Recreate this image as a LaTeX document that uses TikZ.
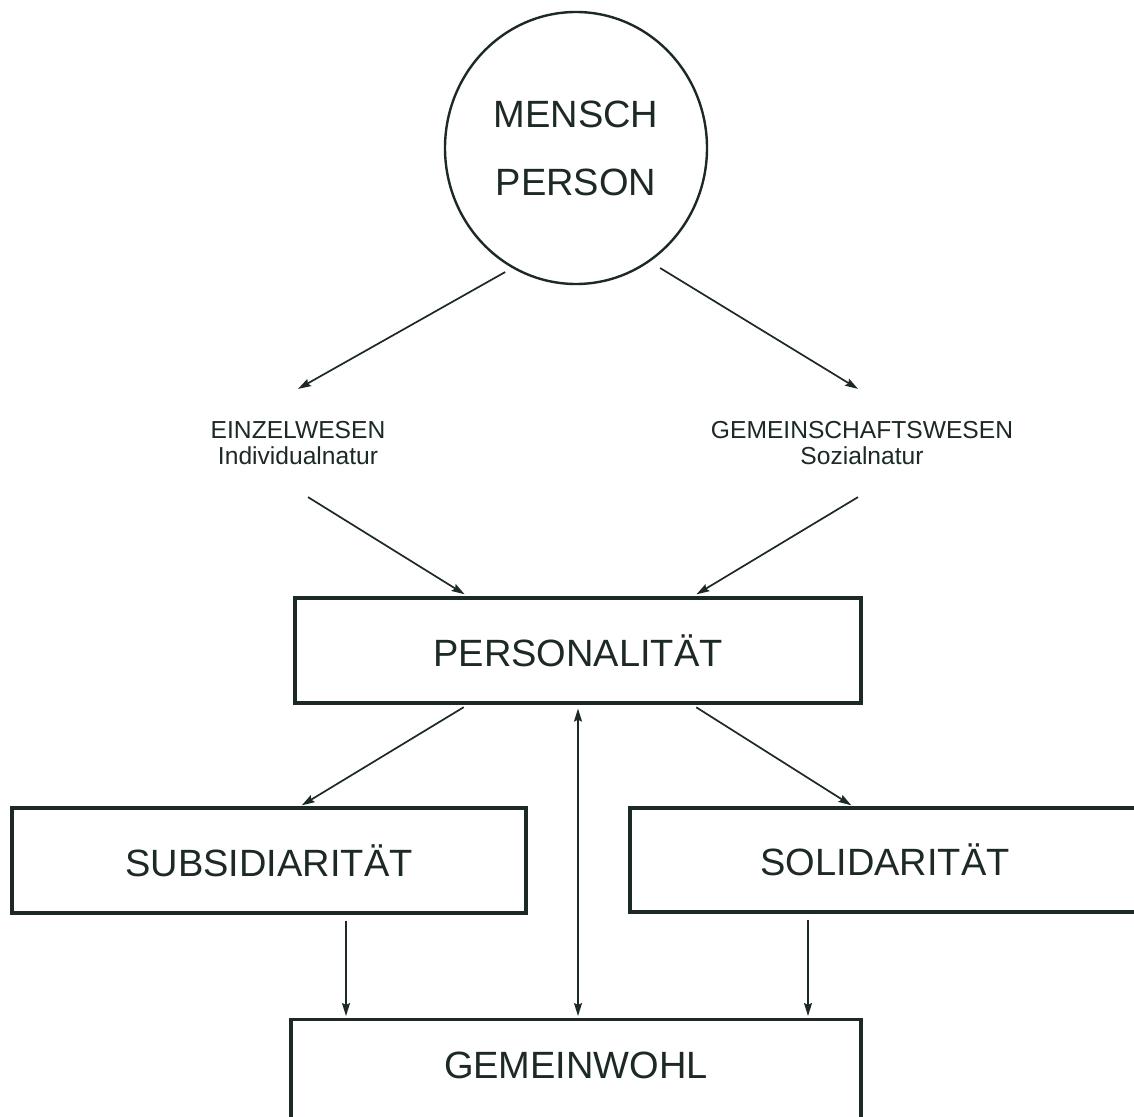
\documentclass[tikz,border=0pt]{standalone}
\usepackage{fontspec}
\setmainfont{Liberation Sans}
\usetikzlibrary{arrows.meta,shapes.geometric}
\definecolor{ink}{HTML}{1C2A23}
\begin{document}
\begin{tikzpicture}[x=0.5pt,y=-0.5pt,
  tip/.tip={Stealth[length=6.5pt,width=4pt,inset=1pt]},
  arr/.style={-tip, line width=0.85pt, draw=ink},
  darr/.style={tip-tip, line width=0.85pt, draw=ink},
  bigfont/.style={font=\fontsize{19}{34}\selectfont},
  bigbox/.style={bigfont, draw=ink, line width=1.6pt, rectangle, inner sep=0pt, text=ink},
  smalltxt/.style={font=\fontsize{12.3}{13}\selectfont, align=center, inner xsep=0pt, inner ysep=16pt, text=ink},
]
\fill[white] (0,0) rectangle (1134,1117);
\useasboundingbox (0,0) rectangle (1134,1117);

\node (mensch) [ellipse, draw=ink, line width=1.2pt, minimum width=131pt, minimum height=136pt, inner sep=0pt,
  align=center, bigfont, text=ink] at (576,148) {MENSCH\\PERSON};

\node (einzel) [smalltxt] at (298,443) {EINZELWESEN\\Individualnatur};
\node (gemein) [smalltxt] at (862,443) {GEMEINSCHAFTSWESEN\\Sozialnatur};

\node (pers) [bigbox, minimum width=283pt, minimum height=52.5pt] at (578,650.5) {PERSONALITÄT};
\node (subs) [bigbox, minimum width=257pt, minimum height=52.5pt] at (269,860.5) {SUBSIDIARITÄT};
\node (soli) [bigbox, minimum width=255pt, minimum height=52pt] at (885,860) {SOLIDARITÄT};
\node (wohl) [bigbox, minimum width=285pt, anchor=north, inner ysep=16pt, text depth=30pt] at (576,1018) {GEMEINWOHL};

\draw[arr, shorten <=4pt] (mensch.-118.7) -- (einzel.north);
\draw[arr, shorten <=6pt] (mensch.-57) -- ([xshift=-2pt]gemein.north);

\draw[arr, shorten >=2pt] ([xshift=5pt]einzel.south) -- ([xshift=-55pt]pers.north);
\draw[arr, shorten >=2pt] ([xshift=-2pt]gemein.south) -- ([xshift=57.5pt]pers.north);

\draw[arr, shorten <=2.5pt, shorten >=1pt] ([xshift=-55pt]pers.south) -- ([xshift=15.5pt]subs.north);
\draw[arr, shorten <=2.5pt, shorten >=1pt] ([xshift=57pt]pers.south) -- ([xshift=-16pt]soli.north);

\draw[darr, shorten <=2pt, shorten >=1pt] (pers.south) -- (pers.south |- wohl.north);

\draw[arr, shorten <=3pt, shorten >=1pt] ([xshift=38.5pt]subs.south) -- ([xshift=38.5pt]subs.south |- wohl.north);
\draw[arr, shorten <=3pt, shorten >=1pt] ([xshift=-38.5pt]soli.south) -- ([xshift=-38.5pt]soli.south |- wohl.north);
\end{tikzpicture}
\end{document}
